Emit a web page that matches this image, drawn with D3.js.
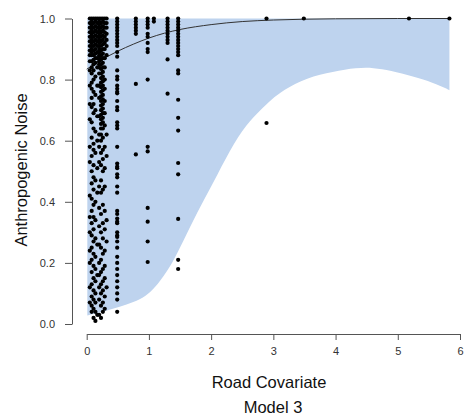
<!DOCTYPE html>
<html>
<head>
<meta charset="utf-8">
<script src="https://cdn.jsdelivr.net/npm/d3@7"></script>
<style>
  body { margin: 0; background: #fff; }
  text { font-family: "Liberation Sans", Arial, sans-serif; }
</style>
</head>
<body>
<div id="chart"></div>
<script>
// ---- data ----
const xTicks = [0, 1, 2, 3, 4, 5, 6];
const yTicks = [0, 0.2, 0.4, 0.6, 0.8, 1.0];

// lower edge of the shaded band (upper edge is 1.0)
const bandX     = [0.01, 0.2, 0.42, 0.64, 0.86, 1.02, 1.18, 1.39, 1.55, 1.77, 2.03, 2.30, 2.57, 2.79, 2.97, 3.15, 3.54, 3.96, 4.34, 4.61, 4.88, 5.25, 5.57, 5.79, 5.83];
const bandLower = [0.028, 0.037, 0.05, 0.063, 0.08, 0.102, 0.139, 0.204, 0.27, 0.364, 0.46, 0.57, 0.655, 0.70, 0.735, 0.765, 0.807, 0.826, 0.839, 0.839, 0.83, 0.81, 0.79, 0.77, 0.765];

// fitted curve
const fitX = [0, 0.25, 0.5, 0.75, 1, 1.25, 1.5, 2, 2.5, 3, 4, 5, 5.83];
const fitY = [0.834, 0.866, 0.893, 0.916, 0.936, 0.952, 0.964, 0.98, 0.99, 0.995, 0.999, 1.0, 1.0];

// observed points, grouped by column (x, then its y values)
const columns = [
  { x: 0.05, ys: [1.0, 0.985, 0.97, 0.955, 0.94, 0.925, 0.91, 0.895, 0.88, 0.86, 0.83, 0.78, 0.72, 0.67, 0.58, 0.53, 0.42, 0.35, 0.30, 0.24, 0.20, 0.12, 0.07] },
  { x: 0.08, ys: [1.0, 0.99, 0.98, 0.97, 0.96, 0.95, 0.94, 0.93, 0.92, 0.91, 0.90, 0.89, 0.88, 0.86, 0.84, 0.82, 0.79, 0.77, 0.74, 0.71, 0.66, 0.61, 0.55, 0.50, 0.46, 0.41, 0.37, 0.33, 0.29, 0.25, 0.21, 0.17, 0.13, 0.09, 0.06, 0.04] },
  { x: 0.11, ys: [1.0, 0.985, 0.97, 0.955, 0.94, 0.925, 0.91, 0.895, 0.88, 0.865, 0.85, 0.83, 0.80, 0.76, 0.72, 0.69, 0.64, 0.59, 0.57, 0.52, 0.48, 0.44, 0.39, 0.35, 0.31, 0.27, 0.23, 0.19, 0.15, 0.11, 0.08, 0.05, 0.02] },
  { x: 0.14, ys: [1.0, 0.99, 0.975, 0.96, 0.945, 0.93, 0.915, 0.90, 0.885, 0.87, 0.855, 0.81, 0.75, 0.70, 0.63, 0.56, 0.47, 0.40, 0.34, 0.28, 0.22, 0.18, 0.14, 0.10, 0.07, 0.04, 0.01] },
  { x: 0.17, ys: [1.0, 0.985, 0.97, 0.955, 0.94, 0.925, 0.91, 0.89, 0.87, 0.84, 0.78, 0.68, 0.60, 0.51, 0.43, 0.26, 0.16, 0.03] },
  { x: 0.20, ys: [1.0, 0.99, 0.98, 0.97, 0.96, 0.95, 0.94, 0.93, 0.92, 0.91, 0.90, 0.89, 0.88, 0.87, 0.86, 0.85, 0.84, 0.82, 0.78, 0.74, 0.68, 0.62, 0.58, 0.53, 0.45, 0.38, 0.32, 0.26, 0.20, 0.16, 0.12, 0.08, 0.03] },
  { x: 0.23, ys: [1.0, 0.985, 0.97, 0.955, 0.94, 0.925, 0.91, 0.895, 0.88, 0.865, 0.85, 0.835, 0.82, 0.805, 0.79, 0.775, 0.76, 0.745, 0.73, 0.715, 0.70, 0.685, 0.67, 0.655, 0.64, 0.62, 0.60, 0.56, 0.52, 0.47, 0.43, 0.36, 0.30, 0.25, 0.21, 0.17, 0.13, 0.10, 0.06, 0.02] },
  { x: 0.26, ys: [1.0, 0.99, 0.975, 0.96, 0.945, 0.93, 0.915, 0.90, 0.885, 0.87, 0.855, 0.84, 0.825, 0.81, 0.795, 0.78, 0.765, 0.75, 0.735, 0.72, 0.705, 0.69, 0.675, 0.66, 0.64, 0.61, 0.57, 0.54, 0.50, 0.44, 0.39, 0.33, 0.28, 0.23, 0.18, 0.14, 0.11, 0.07, 0.04] },
  { x: 0.29, ys: [1.0, 0.985, 0.97, 0.955, 0.94, 0.92, 0.90, 0.87, 0.84, 0.80, 0.77, 0.73, 0.69, 0.65, 0.58, 0.51, 0.45, 0.37, 0.31, 0.24, 0.19, 0.15, 0.09, 0.05] },
  { x: 0.32, ys: [1.0, 0.985, 0.97, 0.95, 0.93, 0.91, 0.88, 0.62, 0.55, 0.34, 0.27, 0.12] },
  { x: 0.49, ys: [1.0, 0.99, 0.98, 0.97, 0.96, 0.95, 0.94, 0.93, 0.92, 0.91, 0.89, 0.875, 0.83, 0.81, 0.80, 0.78, 0.77, 0.76, 0.755, 0.73, 0.71, 0.70, 0.66, 0.65, 0.64, 0.58, 0.525, 0.515, 0.51, 0.49, 0.48, 0.45, 0.43, 0.37, 0.36, 0.345, 0.335, 0.33, 0.30, 0.29, 0.285, 0.27, 0.25, 0.22, 0.20, 0.18, 0.16, 0.14, 0.12, 0.10, 0.08, 0.04] },
  { x: 0.79, ys: [1.0, 0.99, 0.98, 0.97, 0.96, 0.95, 0.786, 0.555] },
  { x: 0.98, ys: [1.0, 0.99, 0.98, 0.97, 0.95, 0.94, 0.92, 0.90, 0.89, 0.80, 0.58, 0.565, 0.38, 0.335, 0.27, 0.203] },
  { x: 1.08, ys: [1.0, 0.99] },
  { x: 1.30, ys: [1.0, 0.99, 0.98, 0.97, 0.96, 0.95, 0.94, 0.93, 0.92, 0.866, 0.754] },
  { x: 1.47, ys: [1.0, 0.99, 0.98, 0.97, 0.96, 0.95, 0.94, 0.93, 0.92, 0.91, 0.90, 0.89, 0.88, 0.83, 0.82, 0.734, 0.675, 0.633, 0.527, 0.49, 0.344, 0.21, 0.18] },
  { x: 2.89, ys: [1.0, 0.658] },
  { x: 3.49, ys: [1.0] },
  { x: 5.18, ys: [1.0] },
  { x: 5.83, ys: [1.0] }
];

// ---- layout ----
const width = 465, height = 417;
const x = d3.scaleLinear().domain([0, 6]).range([86.7, 460]);
const y = d3.scaleLinear().domain([0, 1]).range([324, 18.5]);
const axisColor = "#555";

const svg = d3.select("#chart").append("svg")
    .attr("width", width)
    .attr("height", height);

// shaded band
const band = bandX.map((v, i) => ({ x: v, lo: bandLower[i] }));
svg.append("path")
    .datum(band)
    .attr("fill", "#bed3ee")
    .attr("d", d3.area()
        .x(d => x(d.x))
        .y0(d => y(d.lo))
        .y1(y(1))
        .curve(d3.curveBasis));

// fitted line
svg.append("path")
    .datum(fitX.map((v, i) => [v, fitY[i]]))
    .attr("fill", "none")
    .attr("stroke", "#333")
    .attr("stroke-width", 1)
    .attr("d", d3.line()
        .x(d => x(d[0]))
        .y(d => y(d[1]))
        .curve(d3.curveMonotoneX));

// points
const points = columns.flatMap(c => c.ys.map(v => [c.x, v]));
svg.append("g")
    .selectAll("circle")
    .data(points)
    .join("circle")
    .attr("cx", d => x(d[0]))
    .attr("cy", d => y(d[1]))
    .attr("r", 2.1)
    .attr("fill", "#000");

// x axis (R style: line only across the tick range)
const xAxis = svg.append("g")
    .attr("transform", "translate(0,334)")
    .call(d3.axisBottom(x).tickValues(xTicks).tickFormat(d3.format("d")).tickSize(6).tickSizeOuter(0));
xAxis.select(".domain").attr("stroke", axisColor);
xAxis.selectAll(".tick line").attr("stroke", axisColor);
xAxis.selectAll(".tick text")
    .attr("font-size", 11)
    .attr("fill", "#333")
    .attr("dy", "1.05em");

// y axis
const yAxis = svg.append("g")
    .attr("transform", "translate(72,0)")
    .call(d3.axisLeft(y).tickValues(yTicks).tickFormat(d3.format(".1f")).tickSize(7).tickSizeOuter(0));
yAxis.select(".domain").attr("stroke", axisColor);
yAxis.selectAll(".tick line").attr("stroke", axisColor);
yAxis.selectAll(".tick text")
    .attr("font-size", 11)
    .attr("fill", "#333")
    .attr("x", -17);

// titles
svg.append("text")
    .attr("x", 269).attr("y", 388)
    .attr("text-anchor", "middle")
    .attr("font-size", 16.5)
    .attr("fill", "#111")
    .text("Road Covariate");

svg.append("text")
    .attr("x", 273).attr("y", 413)
    .attr("text-anchor", "middle")
    .attr("font-size", 16.5)
    .attr("fill", "#111")
    .text("Model 3");

svg.append("text")
    .attr("transform", "translate(27,170) rotate(-90)")
    .attr("text-anchor", "middle")
    .attr("font-size", 16.5)
    .attr("fill", "#111")
    .text("Anthropogenic Noise");
</script>
</body>
</html>
